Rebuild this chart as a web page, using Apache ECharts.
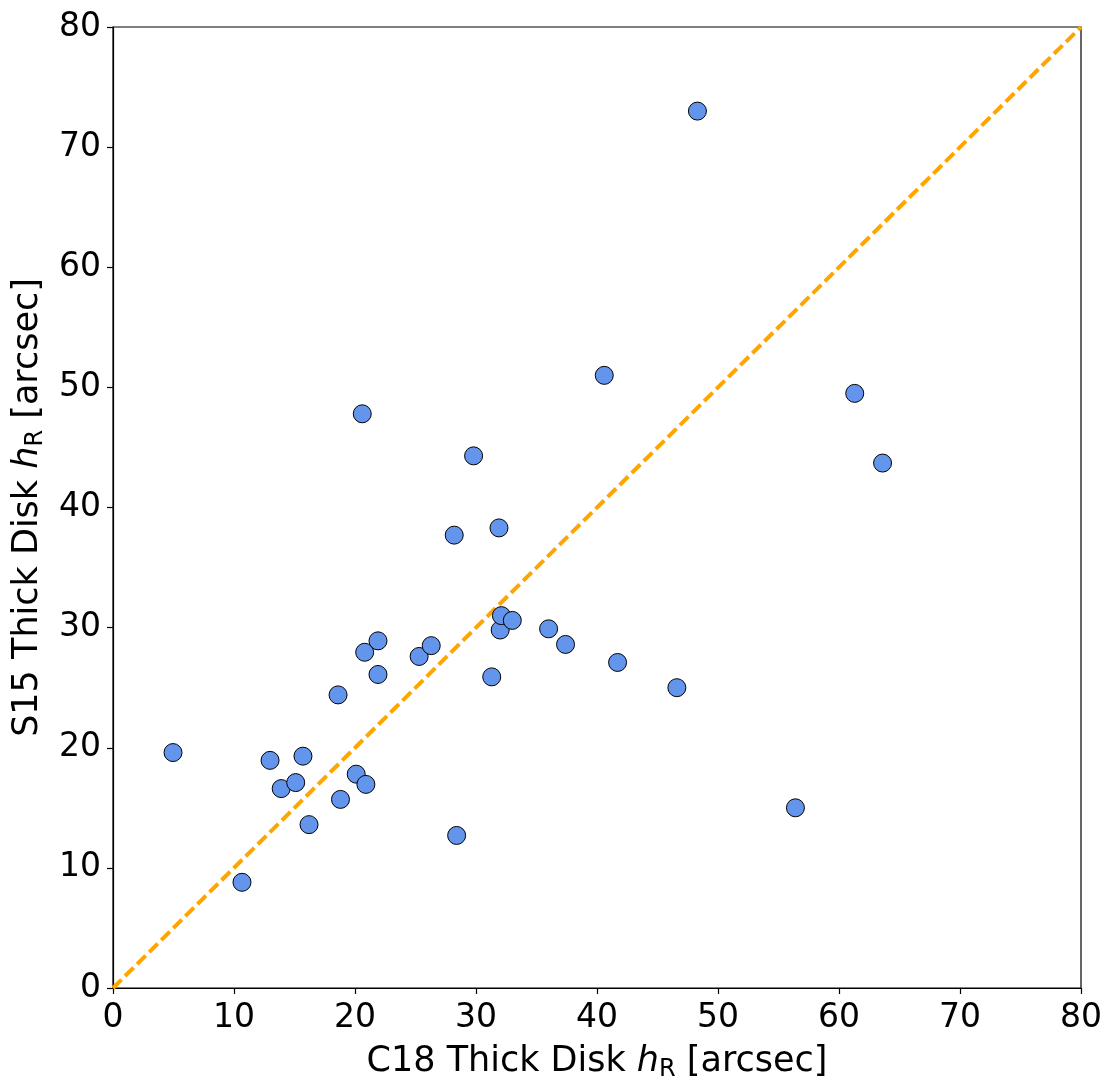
<!DOCTYPE html>
<html>
<head>
<meta charset="utf-8">
<script src="https://cdn.jsdelivr.net/npm/echarts@6/dist/echarts.min.js"></script>
<style>
html,body{margin:0;padding:0;background:#fff;}
#c{width:1116px;height:1091px;}
</style>
</head>
<body>
<div id="c"></div>
<script>
// C18 thick disk h_R (x) vs S15 thick disk h_R (y), arcsec
const c18 = [4.96, 10.66, 12.98, 13.9, 15.1, 15.7, 16.2, 18.6, 18.8, 20.1, 20.9, 20.6, 20.8, 21.9, 21.9, 25.3, 26.3, 28.2, 28.4, 29.8, 31.3, 31.9, 32.0, 32.1, 33.0, 36.0, 37.4, 40.6, 41.7, 46.6, 48.3, 56.4, 61.3, 63.6];
const s15 = [19.6, 8.8, 18.95, 16.6, 17.1, 19.3, 13.6, 24.4, 15.7, 17.8, 16.95, 47.8, 27.95, 28.9, 26.1, 27.6, 28.5, 37.7, 12.7, 44.3, 25.9, 38.3, 29.8, 31.0, 30.6, 29.9, 28.6, 51.0, 27.1, 25.0, 73.0, 15.0, 49.5, 43.7];
const oneToOneX = [0, 80];
const oneToOneY = [0, 80];
const axisMin = 0, axisMax = 80, axisStep = 10;

const font = 'DejaVu Sans';
const nameSize = 35;
const rich = {
  a: {fontFamily: font, fontSize: nameSize, color: '#000', lineHeight: 44},
  i: {fontFamily: font, fontSize: nameSize, fontStyle: 'italic', color: '#000', lineHeight: 44},
  s: {fontFamily: font, fontSize: 24, color: '#000', lineHeight: 44, padding: [16, 0, 0, 0]}
};

const chart = echarts.init(document.getElementById('c'), null, {renderer: 'canvas'});
chart.setOption({
  animation: false,
  backgroundColor: '#fff',
  grid: {left: 113, right: 35, top: 27, bottom: 103, show: true, borderColor: '#000', borderWidth: 1.2, containLabel: false, outerBoundsMode: 'none'},
  xAxis: {
    type: 'value', min: axisMin, max: axisMax, interval: axisStep,
    name: '{a|C18 Thick Disk }{i|h}{s|R}{a| [arcsec]}',
    nameLocation: 'middle', nameGap: 52,
    nameTextStyle: {rich: rich},
    axisLine: {lineStyle: {color: '#000', width: 1.2}},
    axisTick: {show: true, inside: false, length: 6, lineStyle: {color: '#000', width: 1.2}},
    axisLabel: {fontFamily: font, fontSize: 33, color: '#000', margin: 14},
    splitLine: {show: false}
  },
  yAxis: {
    type: 'value', min: axisMin, max: axisMax, interval: axisStep,
    name: '{a|S15 Thick Disk }{i|h}{s|R}{a| [arcsec]}',
    nameLocation: 'middle', nameGap: 58, nameRotate: 90,
    nameTextStyle: {rich: rich},
    axisLine: {lineStyle: {color: '#000', width: 1.2}},
    axisTick: {show: true, inside: false, length: 6, lineStyle: {color: '#000', width: 1.2}},
    axisLabel: {fontFamily: font, fontSize: 33, color: '#000', margin: 12},
    splitLine: {show: false}
  },
  series: [
    {
      type: 'line',
      data: oneToOneX.map((v, i) => [v, oneToOneY[i]]),
      symbol: 'none',
      lineStyle: {color: '#FFA500', width: 4, type: [12, 5]},
      z: 1,
      silent: true
    },
    {
      type: 'scatter',
      data: c18.map((v, i) => [v, s15[i]]),
      symbol: 'circle',
      symbolSize: 18,
      itemStyle: {color: '#6495ED', borderColor: '#000', borderWidth: 1, opacity: 1},
      z: 2
    }
  ]
});
</script>
</body>
</html>
